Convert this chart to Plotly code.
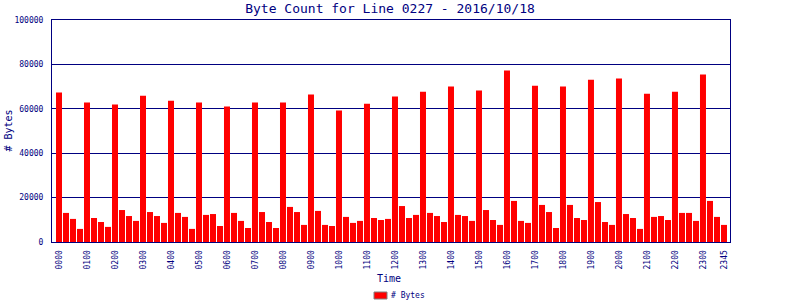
import plotly.graph_objects as go

# 15-minute intervals over the day
times = [f"{h:02d}{m:02d}" for h in range(24) for m in (0, 15, 30, 45)]

byte_counts = [
    67300, 13100, 10400, 5900,
    62800, 10800, 9000, 6800,
    61900, 14400, 11700, 9500,
    65900, 13500, 11700, 8600,
    63600, 13100, 11300, 5900,
    62800, 12200, 12600, 7200,
    61000, 13100, 9500, 6300,
    62800, 13500, 9000, 6300,
    62800, 15800, 13500, 7700,
    66400, 14000, 7700, 7200,
    59200, 11300, 8600, 9500,
    62300, 10800, 9900, 10400,
    65500, 16200, 10800, 12200,
    67700, 13100, 11700, 9000,
    70000, 12200, 11700, 9500,
    68200, 14400, 9900, 7700,
    77200, 18500, 9500, 8600,
    70400, 16700, 13500, 6300,
    70000, 16700, 10800, 9900,
    73100, 18000, 9000, 7700,
    73600, 12600, 10800, 5900,
    66800, 11300, 11700, 9900,
    67700, 13100, 13100, 9500,
    75400, 18500, 11300, 7700,
]

tick_labels = [f"{h:02d}00" for h in range(24)] + ["2345"]
y_ticks = [0, 20000, 40000, 60000, 80000, 100000]
series_name = "# Bytes"

NAVY = "#000080"
RED = "#FF0000"
FONT = "DejaVu Sans Mono"

fig = go.Figure()
fig.add_trace(go.Bar(
    x=times, y=byte_counts, name=series_name,
    marker=dict(color=RED, line=dict(width=0)),
    showlegend=False,
))

# plot area: x 52..730, y 20..242 (pixels)
def px_x(px):
    return (px - 52) / 678

def px_y(py):
    return (242 - py) / 222

fig.update_layout(
    width=800, height=300, autosize=False,
    margin=dict(l=52, r=70, t=20, b=58),
    paper_bgcolor="white", plot_bgcolor="white",
    bargap=1/7,
    font=dict(family=FONT, color=NAVY),
    title=dict(text="Byte Count for Line 0227 - 2016/10/18",
               x=0.4875, xanchor="center", y=1 - 8/300, yanchor="middle",
               xref="container", yref="container",
               font=dict(family=FONT, size=13, color=NAVY)),
    showlegend=False,
    xaxis=dict(type="category", range=[-1.0, 95.86], automargin=False,
               tickmode="array", tickvals=tick_labels, ticktext=tick_labels,
               tickangle=-90, tickfont=dict(family=FONT, size=8, color=NAVY),
               showgrid=False, showline=True, linecolor=NAVY, linewidth=1,
               mirror=True, ticks="", ticklabelstandoff=4, zeroline=False),
    yaxis=dict(range=[0, 100000], tickmode="array", tickvals=y_ticks,
               automargin=False,
               tickformat="d", tickfont=dict(family=FONT, size=8, color=NAVY),
               showgrid=True, gridcolor=NAVY, gridwidth=1,
               showline=True, linecolor=NAVY, linewidth=1, mirror=True,
               ticks="", ticklabelstandoff=6, zeroline=False),
    shapes=[
        dict(type="rect", xref="paper", yref="paper",
             x0=px_x(374), x1=px_x(387), y0=px_y(299), y1=px_y(292),
             fillcolor=RED, line=dict(color="#808080", width=1)),
    ],
    annotations=[
        dict(text=series_name, xref="paper", yref="paper",
             x=px_x(389), y=px_y(295.5), xanchor="left", yanchor="middle",
             showarrow=False, font=dict(family=FONT, size=8, color=NAVY)),
        dict(text="# Bytes", xref="paper", yref="paper",
             x=px_x(7.5), y=0.5, xanchor="center", yanchor="middle",
             textangle=-90, showarrow=False,
             font=dict(family=FONT, size=10, color=NAVY)),
        dict(text="Time", xref="paper", yref="paper",
             x=px_x(389), y=px_y(278),
             xanchor="center", yanchor="middle", showarrow=False,
             font=dict(family=FONT, size=10, color=NAVY)),
    ],
)

fig.write_html("out.html")
